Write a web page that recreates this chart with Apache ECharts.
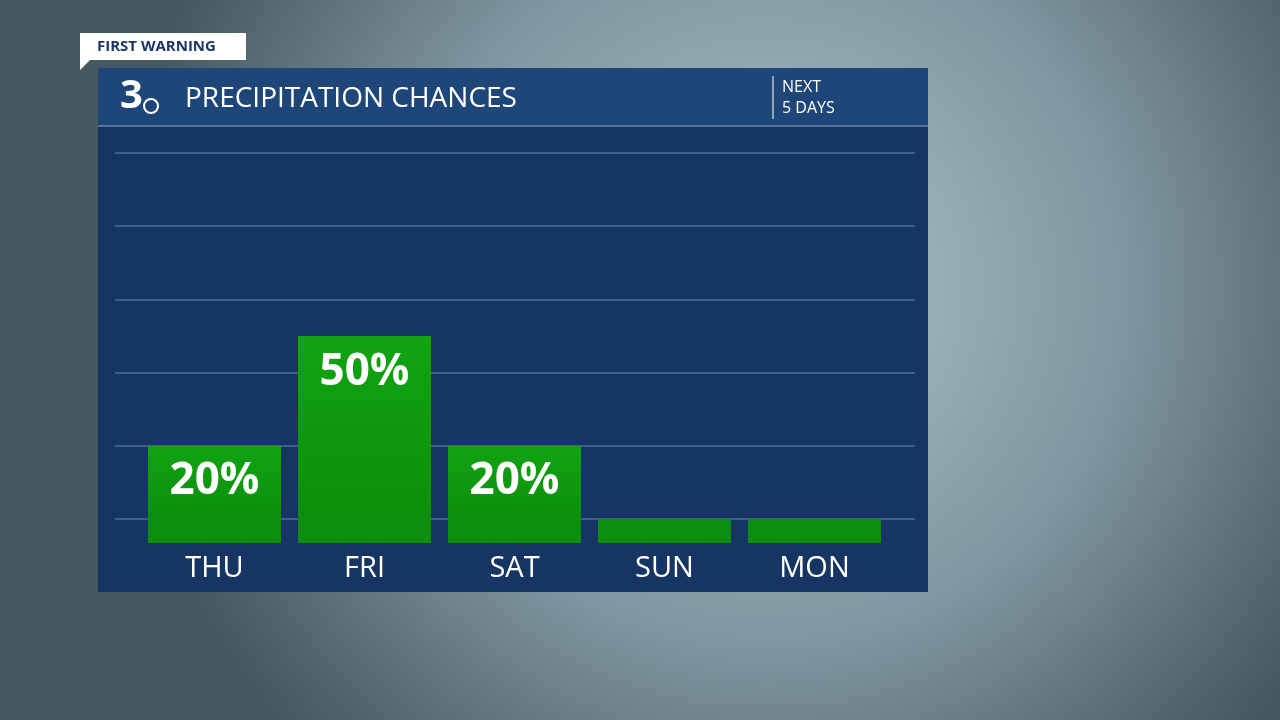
<!DOCTYPE html>
<html><head><meta charset="utf-8">
<script src="https://cdn.jsdelivr.net/npm/echarts@6/dist/echarts.min.js"></script>
<style>html,body{margin:0;padding:0}#main{width:1280px;height:720px}</style>
</head><body><div id="main"></div>
<script>
var days = ['THU', 'FRI', 'SAT', 'SUN', 'MON'],
    chances = [20, 50, 20, 0, 0],
    stub = [6.5, 6.5, 6.5, 6.5, 6.5],
    labels = ['20%', '50%', '20%', '', ''];

var myChart = echarts.init(document.getElementById('main'));
var green = new echarts.graphic.LinearGradient(0, 0, 0, 1, [
    { offset: 0, color: '#12a312' }, { offset: 1, color: '#0c8f0c' }
]);
var option = {
    backgroundColor: new echarts.graphic.RadialGradient(0.6, 0.4, 0.9, [
        { offset: 0, color: '#aec3ca' }, { offset: 0.55, color: '#8096a0' }, { offset: 1, color: '#465860' }
    ]),
    graphic: [
        { type: 'rect', shape: { x: 98, y: 68, width: 830, height: 524 }, style: { fill: '#163563' }, z: -10 },
        { type: 'rect', shape: { x: 98, y: 68, width: 830, height: 58 }, style: { fill: '#1f4679' }, z: -9 },
        { type: 'line', shape: { x1: 98, y1: 126, x2: 928, y2: 126 }, style: { stroke: '#8fa6c4', lineWidth: 1 } },
        { type: 'rect', shape: { x: 80, y: 33, width: 166, height: 27 }, style: { fill: '#ffffff' } },
        { type: 'polygon', shape: { points: [[80, 60], [90, 60], [80, 70]] }, style: { fill: '#ffffff' } },
        { type: 'text', x: 97, y: 47, style: { text: 'FIRST WARNING', fill: '#1b3766', font: 'bold 15px "Open Sans"', verticalAlign: 'middle' } },
        { type: 'text', x: 120, y: 97, style: { text: '3', fill: '#ffffff', font: 'bold 40px "Open Sans"', verticalAlign: 'middle' } },
        { type: 'circle', shape: { cx: 151, cy: 106, r: 7 }, style: { fill: '#1f4679', stroke: '#ffffff', lineWidth: 2 } },
        { type: 'text', x: 185, y: 99, style: { text: 'PRECIPITATION CHANCES', fill: '#ffffff', font: '28px "Open Sans"', verticalAlign: 'middle' } },
        { type: 'line', shape: { x1: 773, y1: 76, x2: 773, y2: 119 }, style: { stroke: '#ffffff', lineWidth: 1 } },
        { type: 'text', x: 782, y: 87, style: { text: 'NEXT', fill: '#ffffff', font: '16px "Open Sans"', verticalAlign: 'middle' } },
        { type: 'text', x: 782, y: 108, style: { text: '5 DAYS', fill: '#ffffff', font: '16px "Open Sans"', verticalAlign: 'middle' } }
    ],
    grid: [
        { left: 139.5, width: 750, top: 153, bottom: 177 },
        { left: 115, right: 365, top: 153, bottom: 201 }
    ],
    xAxis: [
        { type: 'category', data: days, gridIndex: 0, axisLine: { show: false }, axisTick: { show: false },
          axisLabel: { color: '#ffffff', fontSize: 29, fontFamily: 'Open Sans', margin: 11 } },
        { type: 'category', data: days, gridIndex: 1, show: false }
    ],
    yAxis: [
        { type: 'value', gridIndex: 0, min: 0, max: 106.5, show: false, splitLine: { show: false } },
        { type: 'value', gridIndex: 1, min: 0, max: 100, interval: 20, axisLabel: { show: false },
          axisLine: { show: false }, axisTick: { show: false },
          splitLine: { lineStyle: { color: '#3f5f8a', width: 2 } } }
    ],
    series: [
        { type: 'bar', stack: 'p', data: stub, barWidth: 133, itemStyle: { color: '#0c8f0c' }, silent: true },
        { type: 'bar', stack: 'p', data: chances, barWidth: 133, itemStyle: { color: green },
          label: { show: true, position: 'insideTop', distance: 14, color: '#ffffff', fontSize: 44,
                   fontWeight: 'bold', fontFamily: 'Open Sans',
                   formatter: function (p) { return labels[p.dataIndex]; } } }
    ]
};
myChart.setOption(option);
</script></body></html>
